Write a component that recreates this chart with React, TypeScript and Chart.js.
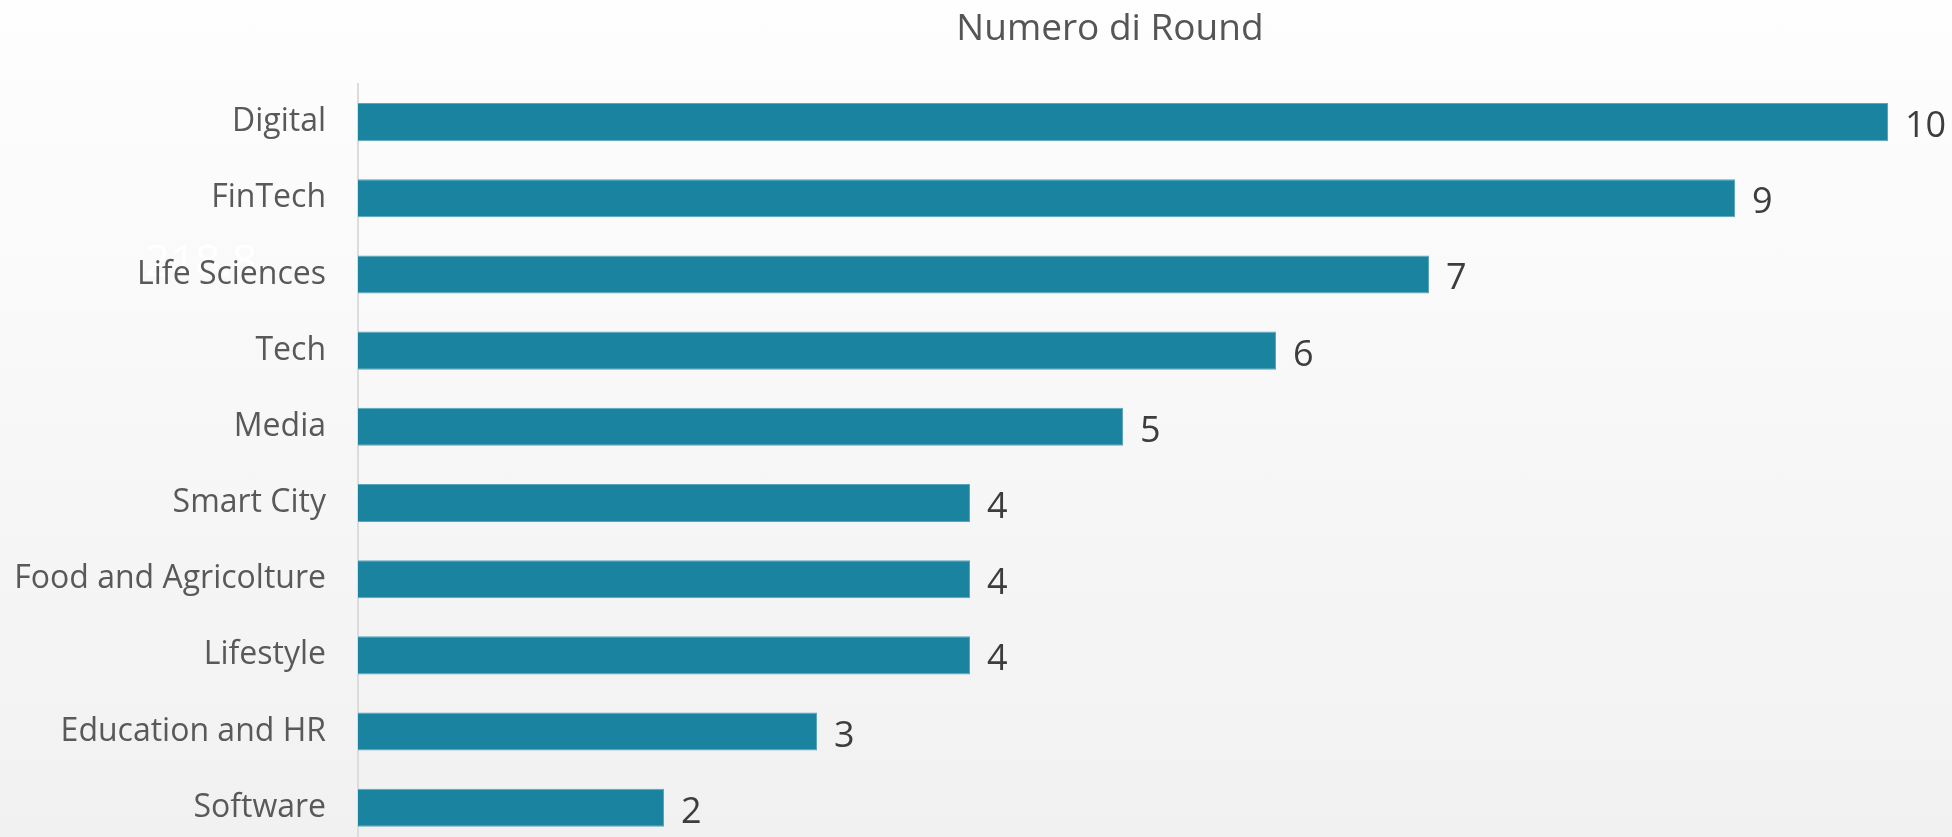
import React, { useEffect, useRef } from "react";
import { Chart, registerables } from "chart.js";

Chart.register(...registerables);

const categories = [
  "Digital",
  "FinTech",
  "Life Sciences",
  "Tech",
  "Media",
  "Smart City",
  "Food and Agricolture",
  "Lifestyle",
  "Education and HR",
  "Software",
];
const rounds = [10, 9, 7, 6, 5, 4, 4, 4, 3, 2];
const titleText = "Numero di Round";
const ghostText = "218.8";

const W = 1952;
const H = 897;
const FONT = "'Open Sans', 'Noto Sans', sans-serif";

export default function App() {
  const ref = useRef<HTMLCanvasElement | null>(null);

  useEffect(() => {
    const canvas = ref.current;
    if (!canvas) return;

    const overlay = {
      id: "overlay",
      beforeDraw(chart: any) {
        const ctx = chart.ctx;
        ctx.save();
        ctx.fillStyle = "rgba(255,255,255,0.95)";
        ctx.font = `44px ${FONT}`;
        ctx.textAlign = "left";
        ctx.textBaseline = "alphabetic";
        ctx.fillText(ghostText, 145, 276);
        ctx.restore();
      },
      afterDraw(chart: any) {
        const ctx = chart.ctx;
        ctx.save();
        ctx.fillStyle = "#555555";
        ctx.font = `37px ${FONT}`;
        ctx.textAlign = "center";
        ctx.textBaseline = "alphabetic";
        ctx.fillText(titleText, 1110, 40);

        const meta = chart.getDatasetMeta(0);
        ctx.fillStyle = "#3d3d3d";
        ctx.font = `36px ${FONT}`;
        ctx.textAlign = "left";
        meta.data.forEach((bar: any, i: number) => {
          ctx.fillText(String(rounds[i]), bar.x + 17, bar.y + 15);
        });
        ctx.restore();
      },
    };

    const chart = new Chart(canvas, {
      type: "bar",
      data: {
        labels: categories,
        datasets: [
          {
            data: rounds,
            backgroundColor: "#1a83a0",
            borderColor: "#5aa5bb",
            borderWidth: 1,
            borderSkipped: "left",
            barPercentage: 0.5,
            categoryPercentage: 1,
          },
        ],
      },
      options: {
        indexAxis: "y",
        responsive: false,
        animation: false,
        layout: { padding: { top: 84, right: 64, bottom: 16, left: 0 } },
        plugins: {
          legend: { display: false },
          title: { display: false },
          tooltip: { enabled: false },
        },
        scales: {
          x: {
            display: false,
            min: 0,
            max: 10,
          },
          y: {
            afterFit(scale: any) {
              scale.width = 358;
            },
            grid: { display: true, drawOnChartArea: false, drawTicks: false },
            border: { display: true, color: "#dcdcdc", width: 2 },
            ticks: {
              padding: 32,
              color: "#595959",
              font: { family: FONT, size: 32 },
            },
          },
        },
      },
      plugins: [overlay],
    });

    return () => chart.destroy();
  }, []);

  return (
    <div
      style={{
        position: "fixed",
        left: 0,
        top: 0,
        width: W,
        height: 837,
        overflow: "hidden",
        background: "linear-gradient(#fefefe, #f1f1f1)",
      }}
    >
      <canvas ref={ref} width={W} height={H} style={{ display: "block", width: W, height: H }} />
    </div>
  );
}
